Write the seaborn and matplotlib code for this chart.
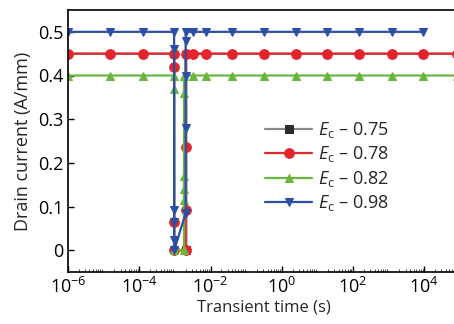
import numpy as np
import pandas as pd
import matplotlib
matplotlib.use('Agg')
import matplotlib.pyplot as plt
import matplotlib.ticker as mticker
import seaborn as sns

# время до переключения и после восстановления (с)
t_pre = [1e-6, 1.5e-5, 1.3e-4, 9.5e-4]
t_post = [3.2e-3, 7.6e-3, 4.1e-2, 0.32, 2.5, 19, 150, 1250, 9300]
t_tail = [8e4]

# переходные участки: (время, ток)
black_t = [9.5e-4, 9.6e-4, 2.1e-3, 2.1e-3]
black_i = [0.45, 0.0, 0.0, 0.45]
red_t = [9.5e-4, 9.5e-4, 9.6e-4, 2.0e-3, 2.0e-3, 2.0e-3, 2.0e-3]
red_i = [0.42, 0.064, 0.0, 0.0, 0.092, 0.236, 0.45]
green_t = [9.5e-4, 9.6e-4, 1.8e-3, 1.8e-3, 1.8e-3, 1.8e-3, 1.8e-3, 1.8e-3]
green_i = [0.37, 0.0, 0.0, 0.115, 0.14, 0.17, 0.36, 0.40]
blue_t = [9.5e-4, 9.5e-4, 9.5e-4, 9.5e-4, 9.6e-4, 2.0e-3, 2.0e-3, 2.0e-3, 2.0e-3, 2.0e-3]
blue_i = [0.46, 0.092, 0.064, 0.023, 0.0, 0.085, 0.28, 0.40, 0.48, 0.50]

levels = {'0.75': 0.45, '0.78': 0.45, '0.82': 0.40, '0.98': 0.50}
labels = ['0.75', '0.78', '0.82', '0.98']
colors = ['#2b2b2b', '#e4262c', '#6bb540', '#2c4fa6']
line_colors = ['#8a8a8a', '#e4262c', '#6bb540', '#2c4fa6']
markers = ['s', 'o', '^', 'v']
trans = {'0.75': (black_t, black_i), '0.78': (red_t, red_i),
         '0.82': (green_t, green_i), '0.98': (blue_t, blue_i)}

sns.set_theme(style='ticks')
plt.rcParams['font.family'] = ['Open Sans', 'DejaVu Sans']
plt.rcParams['mathtext.fontset'] = 'custom'
plt.rcParams['mathtext.rm'] = 'Open Sans'
plt.rcParams['mathtext.it'] = 'Open Sans:italic'

fig = plt.figure(figsize=(4.54, 3.24), dpi=100)
ax = fig.add_axes([68 / 454, 1 - 272 / 324, (460 - 68) / 454, 262 / 324])

for lab, c, lc, m in zip(labels, colors, line_colors, markers):
    tt, ii = trans[lab]
    tail = t_tail if lab != '0.98' else []
    t = t_pre + tt + t_post + tail
    i = [levels[lab]] * len(t_pre) + ii + [levels[lab]] * (len(t_post) + len(tail))
    d = pd.DataFrame({'t': t, 'i': i})
    # чёрная кривая почти вся под красной — маркер виден только внизу
    every = [len(t_pre) + 2] if lab == '0.75' else None
    sns.lineplot(data=d, x='t', y='i', sort=False, estimator=None, ax=ax,
                 color=lc, lw=1.6, marker=m, ms=7 if m == 'o' else 6, mfc=c, mec=c,
                 markevery=every, label=r'$E_{\rm c}$ – ' + lab)

ax.set_xscale('log')
ax.set_xlim(1e-6, 1e5)
ax.set_ylim(-0.05, 0.55)
ax.set_xticks([1e-6, 1e-4, 1e-2, 1e0, 1e2, 1e4])
ax.xaxis.set_minor_locator(mticker.LogLocator(base=10, subs=np.arange(2, 10), numticks=30))
ax.xaxis.set_minor_formatter(mticker.NullFormatter())
ax.set_yticks([0, 0.1, 0.2, 0.3, 0.4, 0.5])
ax.set_yticklabels(['0', '0.1', '0.2', '0.3', '0.4', '0.5'])
ax.tick_params(axis='both', which='major', direction='in', length=4, width=1, labelsize=13, colors='black')
ax.tick_params(axis='x', which='minor', direction='in', length=2, width=0.6)
ax.set_xlabel('Transient time (s)', fontsize=12, labelpad=2)
ax.set_ylabel('Drain current (A/mm)', fontsize=13, labelpad=4)
for s in ax.spines.values():
    s.set_color('black')
    s.set_linewidth(1.2)

ax.legend(loc='upper left', bbox_to_anchor=(0.48, 0.615), frameon=False, fontsize=13,
          handlelength=2.6, handletextpad=0.3, labelspacing=0.25, borderpad=0)

fig.savefig('out.png', dpi=100)
